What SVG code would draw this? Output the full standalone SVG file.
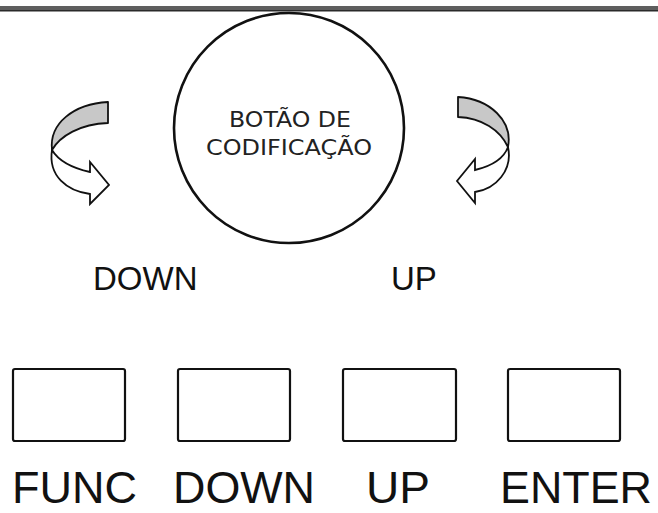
<svg xmlns="http://www.w3.org/2000/svg" width="658" height="513" viewBox="0 0 658 513">
<style>
.btn{fill:#fff;stroke:#111;stroke-width:2.2}
.lbl{font-family:"Liberation Sans",Arial,sans-serif;fill:#111}
.big{font-size:45px}
.knob{font-family:"DejaVu Sans",Verdana,sans-serif;font-size:21px;fill:#222}
.band{fill:#c8c8c8;stroke:#111;stroke-width:1.8;stroke-linejoin:round}
.arw{fill:#fff;stroke:#111;stroke-width:1.8;stroke-linejoin:miter}
</style>
<rect x="0" y="0" width="658" height="513" fill="#fff"/>
<g id="top-bar">
<rect x="0" y="6" width="658" height="4" fill="#5e5e5e"/>
<rect x="0" y="10" width="658" height="1.5" fill="#2a2a2a"/>
</g>
<g id="encoder-knob">
<circle cx="289" cy="128" r="115" fill="#fff" stroke="#111" stroke-width="2.6"/>
<text class="knob" x="290" y="127" text-anchor="middle" textLength="122" lengthAdjust="spacingAndGlyphs">BOTÃO DE</text>
<text class="knob" x="289" y="155" text-anchor="middle" textLength="166" lengthAdjust="spacingAndGlyphs">CODIFICAÇÃO</text>
</g>
<g id="connectors">
<g id="arrow-ccw">
<path class="arw" d="M52,150 C58,160 72,168 90,172 L90,162 L109,185 L90,204 L90,194 C67,191 48,176 52,150 Z"/>
<path class="band" d="M108,102 L108,123 C80,124 60,136 52,150 C49,123 74,104 108,102 Z"/>
</g>
<g id="arrow-cw">
<path class="arw" d="M508,147 C504,158 492,166 475,170 L475,159 L457,181 L475,203 L475,192 C496,189 513,170 508,147 Z"/>
<path class="band" d="M458,97 L458,117 C482,118 500,130 508,147 C513,121 490,99 458,97 Z"/>
</g>
</g>
<g id="knob-labels">
<text class="lbl" x="93" y="290" font-size="33">DOWN</text>
<text class="lbl" x="391" y="290" font-size="33">UP</text>
</g>
<g id="btn-func">
<rect class="btn" x="13" y="369" width="112" height="72" rx="2"/>
<text class="lbl big" x="12" y="503" textLength="125" lengthAdjust="spacingAndGlyphs">FUNC</text>
</g>
<g id="btn-down">
<rect class="btn" x="178" y="369" width="112" height="72" rx="2"/>
<text class="lbl big" x="173" y="503" textLength="142" lengthAdjust="spacingAndGlyphs">DOWN</text>
</g>
<g id="btn-up">
<rect class="btn" x="343" y="369" width="113" height="72" rx="2"/>
<text class="lbl big" x="366" y="503" textLength="64" lengthAdjust="spacingAndGlyphs">UP</text>
</g>
<g id="btn-enter">
<rect class="btn" x="508" y="369" width="112" height="72" rx="2"/>
<text class="lbl big" x="500" y="503" textLength="152" lengthAdjust="spacingAndGlyphs">ENTER</text>
</g>
</svg>
